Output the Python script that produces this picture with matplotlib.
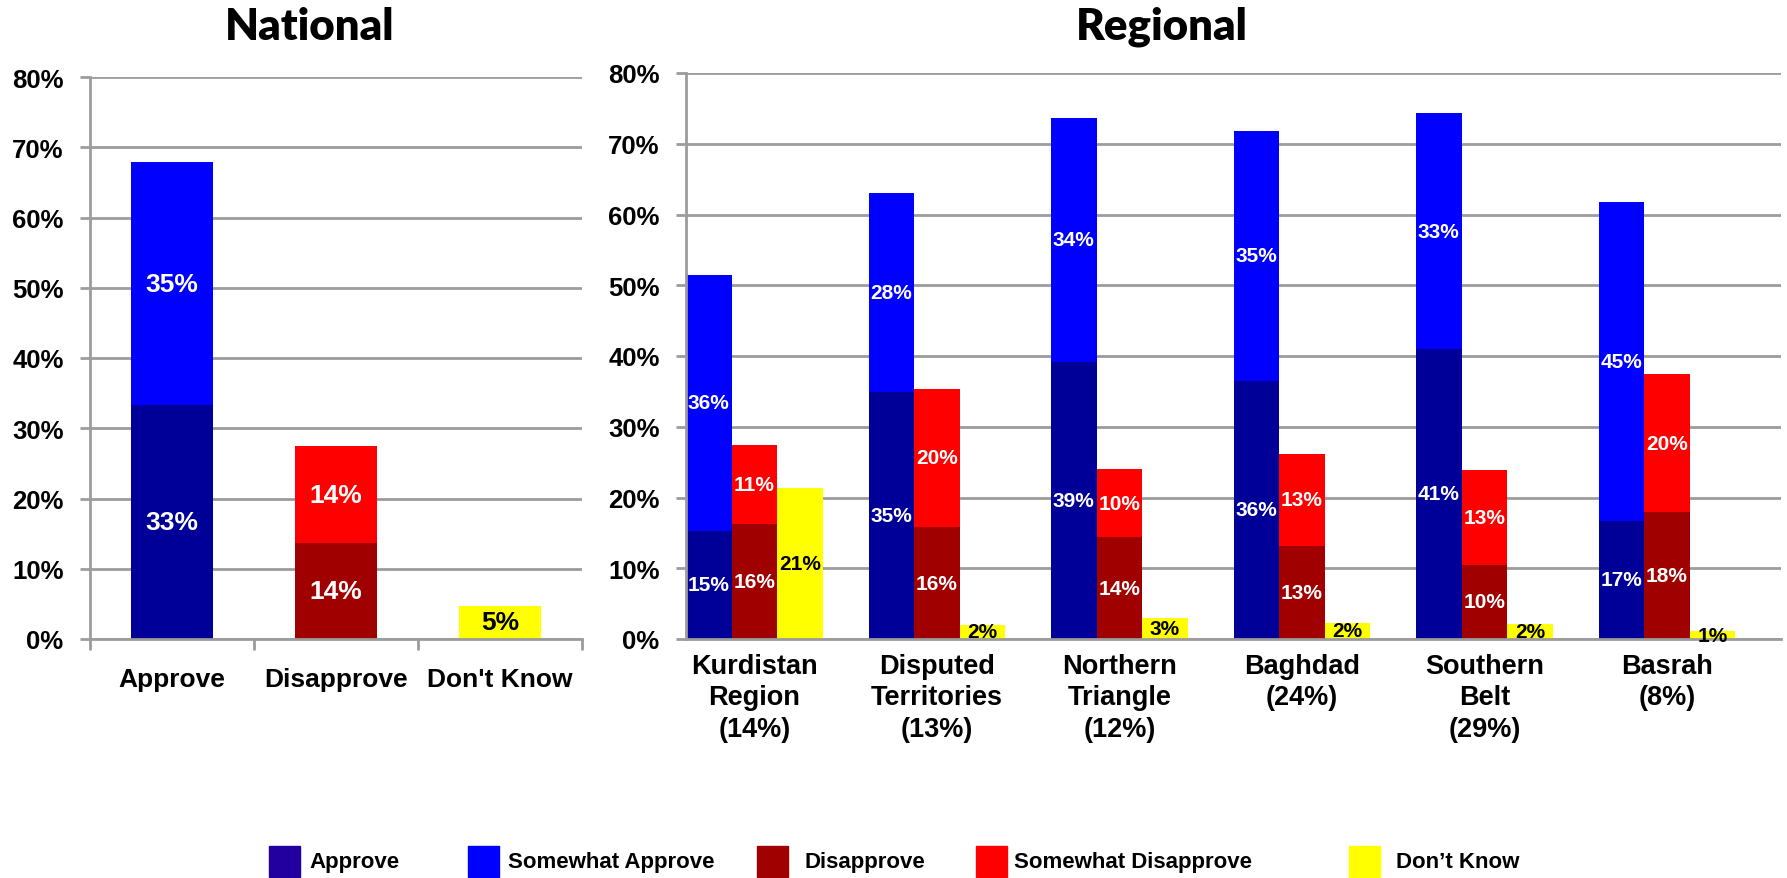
import matplotlib
matplotlib.use("Agg")
import matplotlib.pyplot as plt
from matplotlib.patches import Rectangle

# ---------------- data ----------------
nat_categories = ["Approve", "Disapprove", "Don't Know"]
nat_strong = [33.3, 13.6, 4.7]          # Approve / Disapprove / Don't Know (base)
nat_somewhat = [34.6, 13.9, 0.0]        # Somewhat Approve / Somewhat Disapprove

reg_categories = ["Kurdistan\nRegion\n(14%)", "Disputed\nTerritories\n(13%)",
                  "Northern\nTriangle\n(12%)", "Baghdad\n(24%)",
                  "Southern\nBelt\n(29%)", "Basrah\n(8%)"]
reg_approve = [15.3, 34.9, 39.2, 36.5, 41.0, 16.7]
reg_somewhat_approve = [36.2, 28.2, 34.4, 35.3, 33.3, 45.1]
reg_disapprove = [16.2, 15.8, 14.4, 13.2, 10.5, 17.9]
reg_somewhat_disapprove = [11.2, 19.6, 9.6, 13.0, 13.4, 19.6]
reg_dont_know = [21.3, 2.0, 2.9, 2.3, 2.1, 1.1]

y_ticks = [0, 10, 20, 30, 40, 50, 60, 70, 80]
legend_labels = ["Approve", "Somewhat Approve", "Disapprove", "Somewhat Disapprove", "Don\u2019t Know"]

# ---------------- style ----------------
C_APP = "#000099"
C_SAPP = "#0000FF"
C_DIS = "#A00000"
C_SDIS = "#FF0000"
C_DK = "#FFFF00"
C_LEG_APP = "#2200A0"
GRID = "#9C9C9C"
FONT = ["Liberation Sans", "DejaVu Sans"]

plt.rcParams["font.family"] = FONT
plt.rcParams["font.weight"] = "bold"

W, H = 1787, 879
fig = plt.figure(figsize=(W / 100, H / 100), dpi=100)


def fx(px):
    return px / W


def fy(py):
    return 1 - py / H


def style_axes(ax):
    ax.set_ylim(0, 80)
    ax.set_yticks(y_ticks)
    ax.set_yticklabels([f"{t}%" for t in y_ticks], fontsize=18.5, fontweight="bold")
    ax.yaxis.grid(True, color=GRID, linewidth=2)
    ax.set_axisbelow(True)
    for s in ["top", "right"]:
        ax.spines[s].set_visible(False)
    for s in ["left", "bottom"]:
        ax.spines[s].set_color(GRID)
        ax.spines[s].set_linewidth(2)
    ax.tick_params(axis="y", length=7, width=2, color=GRID, pad=12)


def label(ax, x, bottom, h, color, size):
    ax.text(x, bottom + h / 2, f"{round(h)}%", ha="center", va="center",
            color=color, fontsize=size, fontweight="bold")


# ---------------- National ----------------
ax1 = fig.add_axes([fx(90), fy(640), fx(582) - fx(90), fy(78) - fy(640)])
style_axes(ax1)
xn = list(range(len(nat_categories)))
base_colors = [C_APP, C_DIS, C_DK]
top_colors = [C_SAPP, C_SDIS, C_DK]
ax1.bar(xn, nat_strong, width=0.5, color=base_colors, zorder=2)
ax1.bar(xn, nat_somewhat, width=0.5, bottom=nat_strong, color=top_colors, zorder=2)
for i in xn:
    label(ax1, i, 0, nat_strong[i], "black" if i == 2 else "white", 19)
    if nat_somewhat[i] > 0:
        label(ax1, i, nat_strong[i], nat_somewhat[i], "white", 19)
ax1.set_xlim(-0.5, len(nat_categories) - 0.5)
ax1.set_xticks(xn)
ax1.set_xticklabels(nat_categories, fontsize=19, fontweight="bold")
ax1.set_xticks([i - 0.5 for i in range(len(nat_categories) + 1)], minor=True)
ax1.tick_params(axis="x", which="major", length=0, pad=20)
ax1.tick_params(axis="x", which="minor", length=8, width=2, color=GRID)

# ---------------- Regional ----------------
ax2 = fig.add_axes([fx(686), fy(640), fx(1781) - fx(686), fy(74) - fy(640)])
style_axes(ax2)
xr = list(range(len(reg_categories)))
bw = 0.25
x_app = [i - bw for i in xr]
x_dis = [i for i in xr]
x_dk = [i + bw for i in xr]
ax2.bar(x_app, reg_approve, width=bw, color=C_APP, zorder=2)
ax2.bar(x_app, reg_somewhat_approve, width=bw, bottom=reg_approve, color=C_SAPP, zorder=2)
ax2.bar(x_dis, reg_disapprove, width=bw, color=C_DIS, zorder=2)
ax2.bar(x_dis, reg_somewhat_disapprove, width=bw, bottom=reg_disapprove, color=C_SDIS, zorder=2)
ax2.bar(x_dk, reg_dont_know, width=bw, color=C_DK, zorder=2)
for i in xr:
    label(ax2, x_app[i], 0, reg_approve[i], "white", 15)
    label(ax2, x_app[i], reg_approve[i], reg_somewhat_approve[i], "white", 15)
    label(ax2, x_dis[i], 0, reg_disapprove[i], "white", 15)
    label(ax2, x_dis[i], reg_disapprove[i], reg_somewhat_disapprove[i], "white", 15)
    label(ax2, x_dk[i], 0, reg_dont_know[i], "black", 15)
ax2.set_xlim(-0.375, len(reg_categories) - 0.375)
ax2.set_xticks(xr)
ax2.set_xticklabels(reg_categories, fontsize=19.5, fontweight="bold", linespacing=1.27)
ax2.tick_params(axis="x", length=0, pad=10)

# ---------------- Titles ----------------
fig.text(fx(310), fy(27), "National", ha="center", va="center", fontsize=31.5,
         fontweight="heavy", family=["Lato", "DejaVu Sans"])
fig.text(fx(1162), fy(27), "Regional", ha="center", va="center", fontsize=31.5,
         fontweight="heavy", family=["Lato", "DejaVu Sans"])

# ---------------- Legend ----------------
leg_colors = [C_LEG_APP, C_SAPP, C_DIS, C_SDIS, C_DK]
patch_x = [269, 468, 757, 976, 1349]
text_x = [309, 508, 805, 1014, 1396]
for lab, col, px, tx in zip(legend_labels, leg_colors, patch_x, text_x):
    fig.patches.append(Rectangle((fx(px), fy(878)), fx(31), 31 / H, color=col,
                                 transform=fig.transFigure, figure=fig))
    fig.text(fx(tx), fy(863), lab, ha="left", va="center", fontsize=16, fontweight="bold")

fig.savefig("out.png", dpi=100)
